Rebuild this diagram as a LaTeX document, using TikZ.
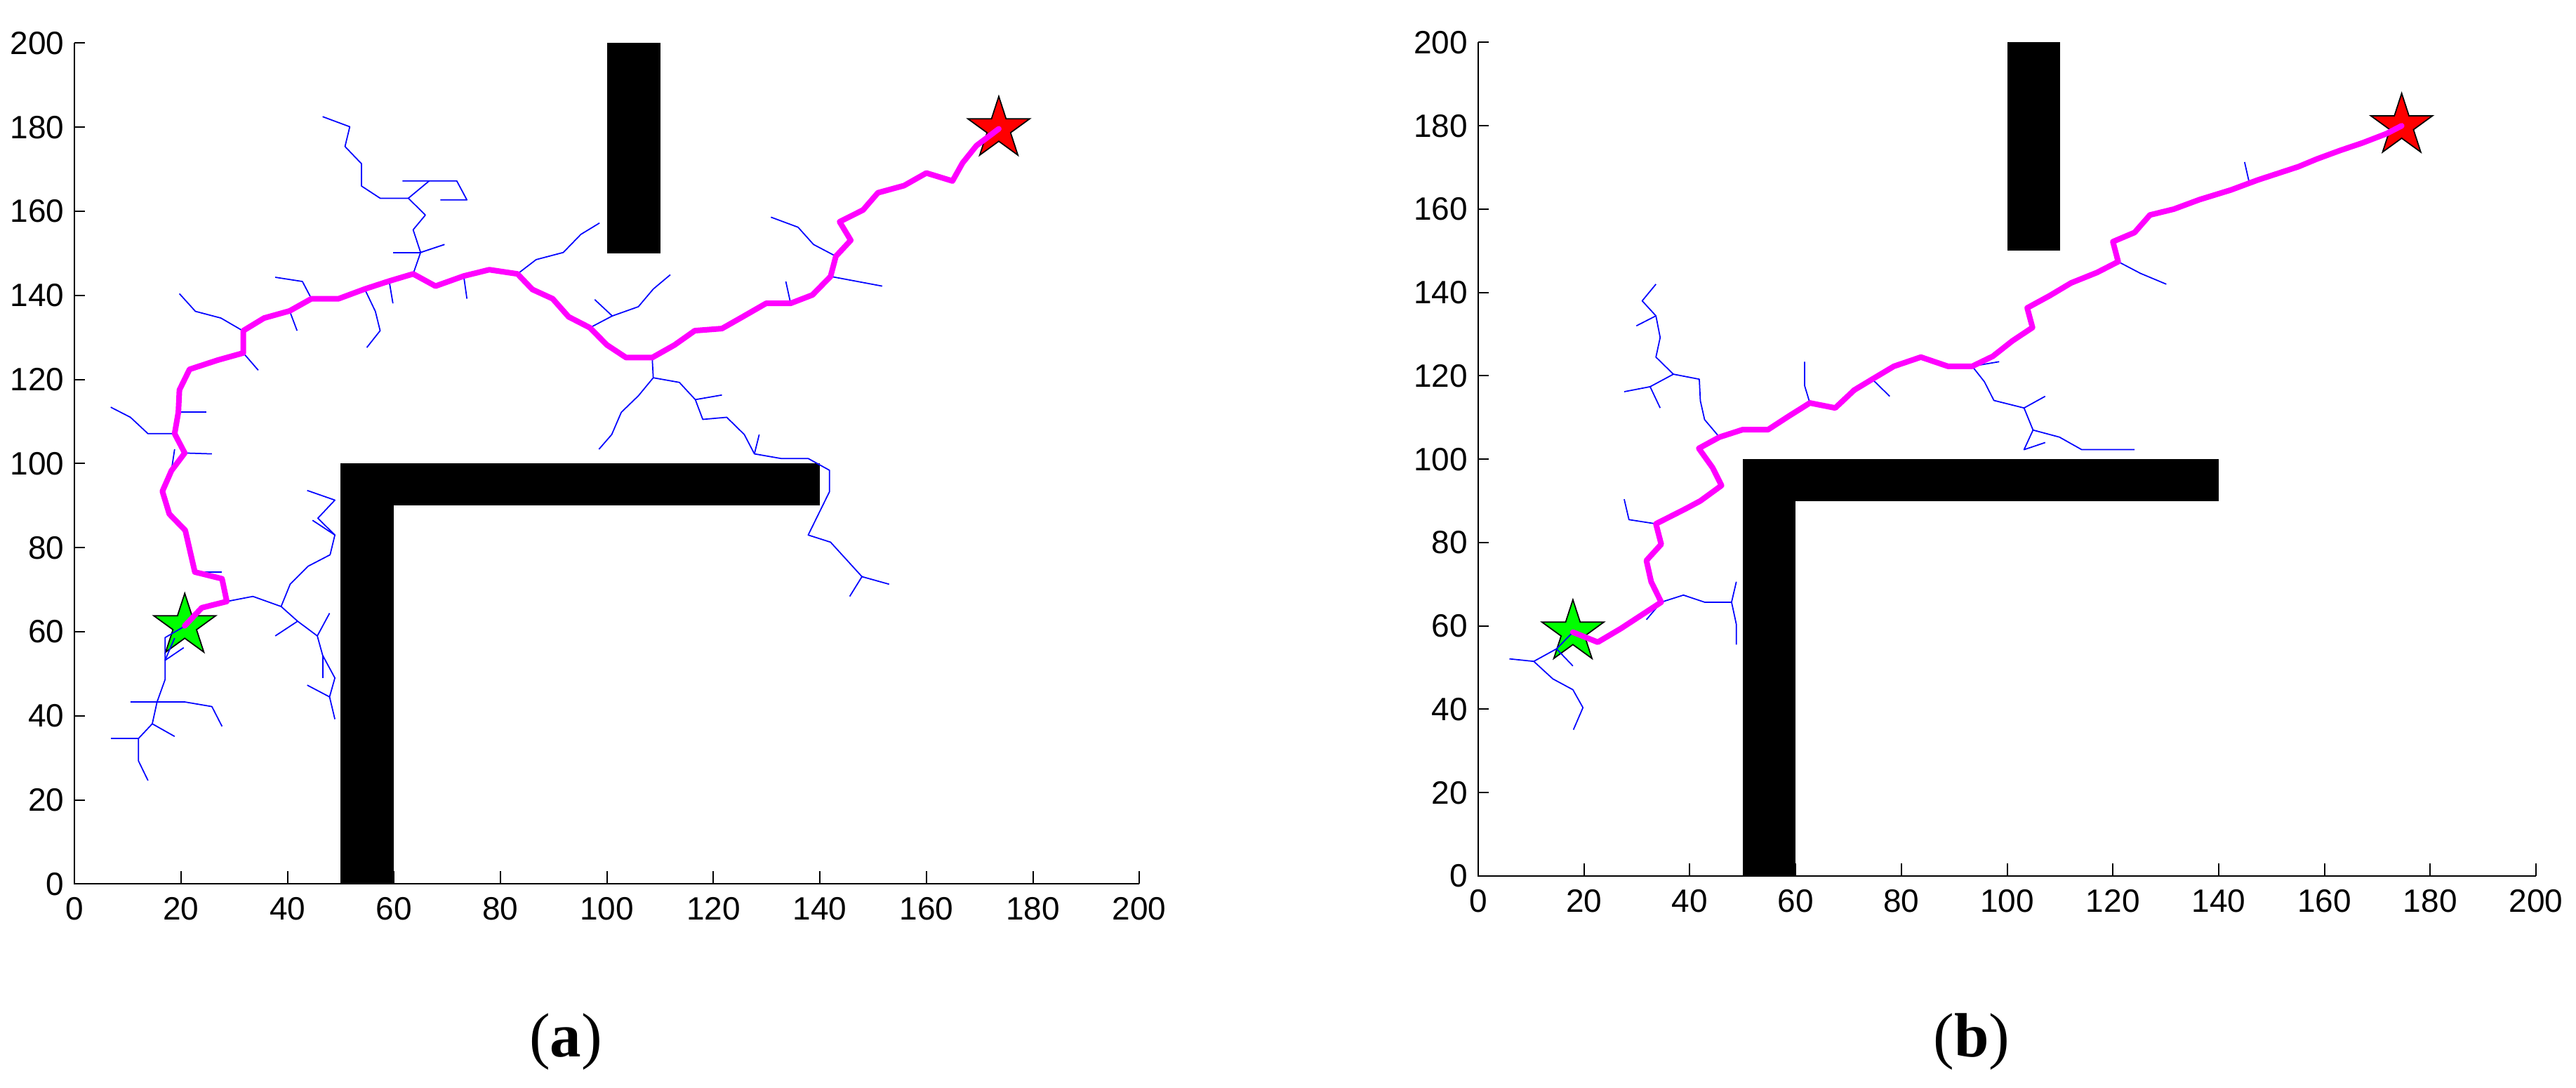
\documentclass[tikz,border=0pt]{standalone}
\usepackage{fontspec}
\setmainfont{Liberation Serif}
\newfontfamily\axfont{Liberation Sans}
\usetikzlibrary{shapes.geometric}
\definecolor{pathmag}{RGB}{255,0,255}
\definecolor{treeblue}{RGB}{0,0,255}
\definecolor{goalred}{RGB}{255,0,0}
\definecolor{startgreen}{RGB}{0,255,0}
\tikzset{
  obstacle/.style={fill=black},
  treeline/.style={treeblue, line width=0.35pt, line join=round},
  route/.style={pathmag, line width=1.6pt, line join=round, line cap=round},
  axisline/.style={black, line width=0.4pt},
  ticklabel/.style={font=\axfont\fontsize{9.2}{10}\selectfont, inner sep=0pt},
  starmark/.style={star, star points=5, star point ratio=2.618, minimum size=18.5pt, inner sep=0pt, draw=black, line width=0.35pt},
  caption/.style={font=\fontsize{17.8}{20}\selectfont, anchor=base, inner sep=0pt}
}
\newcommand{\plotaxes}{%
  \fill[obstacle] (50,0) rectangle (60,100);
  \fill[obstacle] (50,90) rectangle (140,100);
  \fill[obstacle] (100,150) rectangle (110,200);
  \draw[axisline] (0,200) -- (0,0) -- (200,0);
  \foreach \v in {0,20,...,200} {
    \draw[axisline] (\v,0) -- ++(0pt,3.6pt);
    \node[ticklabel, anchor=north] at ([yshift=-3.6pt]\v,0) {\v};
    \draw[axisline] (0,\v) -- ++(2.9pt,0pt);
    \node[ticklabel, anchor=east] at ([xshift=-2.8pt]0,\v) {\v};
  }%
}
\begin{document}
\begin{tikzpicture}[x=1pt,y=1pt]
\useasboundingbox (0,0) rectangle (734,310);
\fill[white] (0,0) rectangle (734,310);

% ---------------- plot (a) ----------------
\begin{scope}[shift={(21.24pt,58.12pt)}, x=1.517pt, y=1.198pt]
  \plotaxes
  \node[starmark, fill=startgreen] (startA) at (20.7,61.4) {};
  \node[starmark, fill=goalred] (goalA) at (173.6,179.6) {};
  % tree
  \draw[treeline] (20.8,61.4)--(17.0,58.6)--(17.0,53.2)--(17.0,48.6)--(15.5,43.3)--(14.6,38.1)--(12.0,34.6)--(12.0,29.3)--(13.8,24.6);
  \draw[treeline] (17.0,53.2)--(20.5,56.2);
  \draw[treeline] (17.0,53.2)--(18.8,58.5);
  \draw[treeline] (12.0,34.6)--(6.8,34.6);
  \draw[treeline] (14.6,38.1)--(18.8,35.1);
  \draw[treeline] (10.5,43.3)--(20.7,43.3)--(25.8,42.2)--(27.7,37.5);
  \draw[treeline] (28.6,67.2)--(33.5,68.4)--(38.8,66.0)--(41.9,62.5)--(45.6,59.0)--(46.6,54.4)--(48.9,49.0)--(47.9,44.5)--(48.9,39.2);
  \draw[treeline] (41.9,62.5)--(37.7,59.0);
  \draw[treeline] (45.6,59.0)--(47.9,64.4);
  \draw[treeline] (46.6,54.4)--(46.6,49.0);
  \draw[treeline] (47.9,44.5)--(43.7,47.3);
  \draw[treeline] (38.8,66.0)--(40.5,71.3)--(43.9,75.6)--(48.0,78.3)--(48.9,83.0)--(45.7,87.0)--(48.9,91.3)--(43.7,93.6);
  \draw[treeline] (48.9,83.0)--(44.7,86.5);
  \draw[treeline] (22.6,74.2)--(27.7,74.2);
  \draw[treeline] (20.7,102.5)--(25.8,102.3);
  \draw[treeline] (18.8,103.4)--(18.2,98.4);
  \draw[treeline] (19.5,112.2)--(24.8,112.2);
  \draw[treeline] (18.8,107.1)--(13.8,107.1)--(10.5,111.0)--(6.8,113.4);
  \draw[treeline] (31.7,126.3)--(34.5,122.2);
  \draw[treeline] (31.3,131.8)--(27.5,134.6)--(22.7,136.2)--(19.7,140.4);
  \draw[treeline] (40.4,136.3)--(41.8,131.6);
  \draw[treeline] (44.5,139.2)--(42.8,143.3)--(37.7,144.3);
  \draw[treeline] (54.5,141.5)--(56.5,136.2)--(57.4,131.6)--(54.9,127.6);
  \draw[treeline] (59.1,143.4)--(59.8,138.1);
  \draw[treeline] (63.6,145.1)--(65.0,150.2)--(63.6,155.6)--(65.9,159.1)--(62.7,163.1)--(57.4,163.1)--(53.9,166.0)--(53.9,171.3)--(50.8,175.4)--(51.7,180.1)--(46.6,182.5);
  \draw[treeline] (65.0,150.2)--(59.8,150.2);
  \draw[treeline] (65.0,150.2)--(69.5,152.1);
  \draw[treeline] (62.7,163.1)--(66.6,167.2);
  \draw[treeline] (61.6,167.2)--(71.8,167.2)--(73.7,162.7)--(68.7,162.7);
  \draw[treeline] (73.1,144.6)--(73.7,139.2);
  \draw[treeline] (83.2,145.1)--(86.7,148.5)--(91.8,150.2)--(95.1,154.5)--(98.6,157.2);
  \draw[treeline] (96.8,132.3)--(101.0,135.1)--(97.7,139.0);
  \draw[treeline] (101.0,135.1)--(105.9,137.3)--(108.7,141.5)--(111.9,144.9);
  \draw[treeline] (108.5,125.2)--(108.7,120.4)--(105.9,116.1)--(102.7,112.2)--(100.9,106.9)--(98.5,103.4);
  \draw[treeline] (108.7,120.4)--(113.6,119.3)--(116.6,115.2)--(121.6,116.3);
  \draw[treeline] (116.6,115.2)--(118.0,110.5)--(122.5,111.0)--(125.8,106.9)--(127.7,102.3)--(132.7,101.2)--(137.8,101.2)--(141.8,98.4)--(141.8,93.3)--(137.8,83.0)--(142.0,81.3)--(147.9,73.1)--(145.6,68.4);
  \draw[treeline] (127.7,102.3)--(128.6,106.9);
  \draw[treeline] (147.9,73.1)--(153.0,71.3);
  \draw[treeline] (134.5,138.1)--(133.6,143.3);
  \draw[treeline] (142.0,144.5)--(151.7,142.2);
  \draw[treeline] (143.0,149.3)--(138.8,152.1)--(135.9,156.2)--(130.8,158.6);
  % route
  \draw[route] (startA.center) -- (23.9,65.7) -- (28.6,67.2) -- (27.7,72.6) -- (22.6,74.2) -- (20.8,84.1) -- (17.8,88.0) -- (16.5,93.4) -- (18.2,98.3) -- (20.7,102.5) -- (18.8,107.1) -- (19.5,112.2) -- (19.7,117.5) -- (21.6,122.4) -- (26.9,124.6) -- (31.7,126.3) -- (31.7,131.6) -- (35.6,134.6) -- (40.4,136.3) -- (44.5,139.2) -- (49.6,139.2) -- (54.5,141.5) -- (59.1,143.4) -- (63.6,145.1) -- (67.8,142.2) -- (73.1,144.6) -- (77.9,146.1) -- (83.2,145.1) -- (86.0,141.4) -- (89.8,139.2) -- (92.8,134.9) -- (96.8,132.3) -- (100.0,128.2) -- (103.6,125.2) -- (108.5,125.2) -- (112.7,128.2) -- (116.5,131.6) -- (121.6,132.1) -- (125.5,134.9) -- (129.9,138.1) -- (134.5,138.1) -- (138.6,140.1) -- (142.0,144.5) -- (143.0,149.3) -- (145.8,153.1) -- (143.7,157.5) -- (148.1,160.3) -- (150.9,164.4) -- (155.8,166.1) -- (160.0,169.1) -- (164.9,167.2) -- (166.8,171.5) -- (169.4,175.6) -- (goalA.center);
\end{scope}

% ---------------- plot (b) ----------------
\begin{scope}[shift={(421.2pt,60.4pt)}, x=1.507pt, y=1.1875pt]
  \plotaxes
  \node[starmark, fill=startgreen] (startB) at (17.9,58.5) {};
  \node[starmark, fill=goalred] (goalB) at (174.6,180.0) {};
  % tree
  \draw[treeline] (17.9,58.5)--(14.8,54.5)--(10.5,51.5)--(14.1,47.3)--(17.9,44.7)--(19.8,40.4)--(18.0,35.1);
  \draw[treeline] (14.8,54.5)--(17.9,50.4);
  \draw[treeline] (10.5,51.5)--(5.9,52.1);
  \draw[treeline] (33.6,84.5)--(28.5,85.5)--(27.6,90.4);
  \draw[treeline] (34.6,65.7)--(31.8,61.5);
  \draw[treeline] (34.6,65.7)--(38.8,67.4)--(42.8,65.7)--(47.9,65.7)--(48.8,70.6);
  \draw[treeline] (47.9,65.7)--(48.8,60.4)--(48.8,55.5);
  \draw[treeline] (45.6,105.3)--(42.8,109.5)--(42.0,114.0)--(41.8,119.2)--(36.9,120.4)--(32.5,117.4)--(27.6,116.2);
  \draw[treeline] (32.5,117.4)--(34.4,112.3);
  \draw[treeline] (36.9,120.4)--(33.6,124.5)--(34.4,129.2)--(33.6,134.4)--(31.0,138.0)--(33.6,142.0);
  \draw[treeline] (33.6,134.4)--(29.9,132.0);
  \draw[treeline] (62.7,113.5)--(61.7,117.7)--(61.7,123.4);
  \draw[treeline] (74.5,119.2)--(77.8,115.1);
  \draw[treeline] (93.4,122.3)--(98.5,123.4);
  \draw[treeline] (93.4,122.3)--(95.7,118.6)--(97.5,114.1)--(103.2,112.3)--(104.9,107.0)--(103.2,102.3)--(107.2,104.0);
  \draw[treeline] (103.2,112.3)--(107.2,115.1);
  \draw[treeline] (104.9,107.0)--(109.9,105.3)--(114.1,102.3)--(124.1,102.3);
  \draw[treeline] (121.0,147.4)--(125.2,144.6)--(130.1,142.0);
  \draw[treeline] (145.7,166.8)--(144.9,171.3);
  % route
  \draw[route] (startB.center) -- (22.6,56.1) -- (27.0,59.4) -- (34.6,65.7) -- (32.7,70.6) -- (31.8,75.7) -- (34.6,79.6) -- (33.6,84.5) -- (39.2,88.1) -- (42.0,90.0) -- (46.0,93.7) -- (44.3,98.0) -- (41.7,102.6) -- (45.6,105.3) -- (50.0,107.1) -- (54.8,107.1) -- (58.8,110.4) -- (62.7,113.5) -- (67.5,112.3) -- (71.1,116.6) -- (74.5,119.2) -- (78.6,122.3) -- (83.7,124.5) -- (88.8,122.3) -- (93.4,122.3) -- (97.3,124.7) -- (101.0,128.4) -- (104.8,131.6) -- (103.8,136.3) -- (108.0,139.2) -- (112.1,142.3) -- (117.0,144.8) -- (121.0,147.4) -- (120.0,152.2) -- (124.1,154.4) -- (127.0,158.6) -- (131.5,160.0) -- (136.4,162.3) -- (142.3,164.6) -- (147.4,167.0) -- (155.1,170.2) -- (158.5,172.0) -- (163.0,174.1) -- (167.2,175.9) -- (171.7,178.1) -- (goalB.center);
\end{scope}

% captions
\node[caption] (capA) at (161.2,8.8) {(\textbf{a})};
\node[caption] (capB) at (561.8,8.8) {(\textbf{b})};
\end{tikzpicture}
\end{document}
